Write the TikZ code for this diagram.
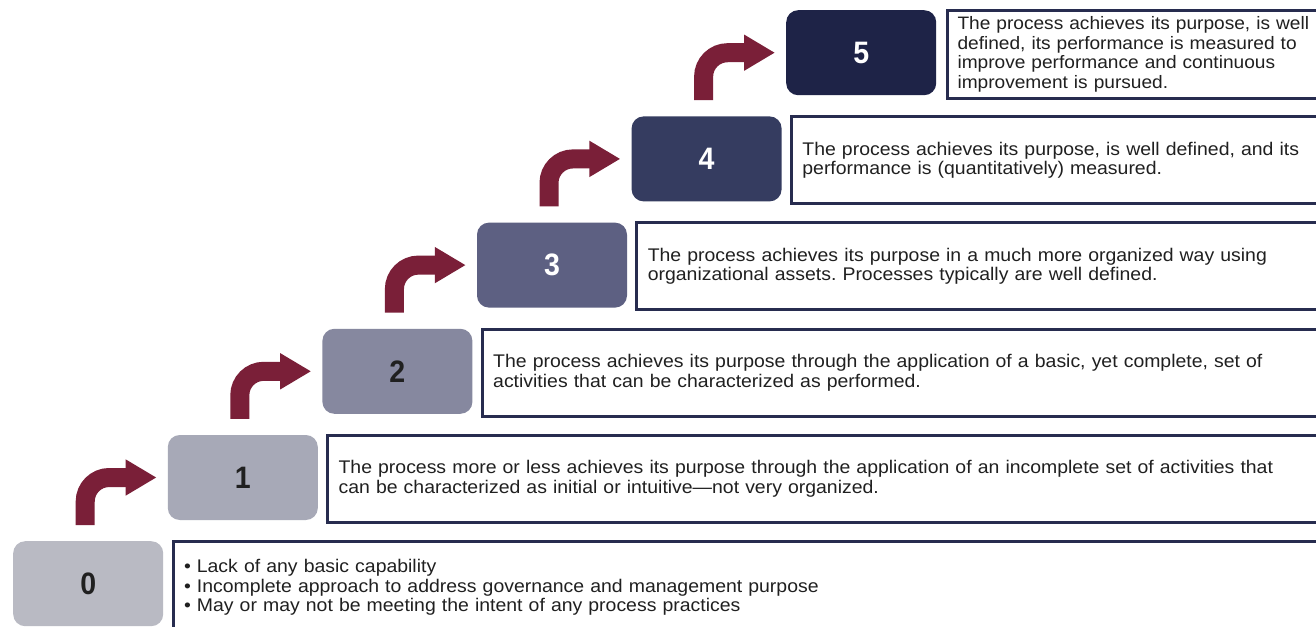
\documentclass[tikz,border=0pt]{standalone}
\usepackage{fontspec}
\setmainfont{Liberation Sans}
\newfontfamily\descfont[FakeStretch=1.062]{Liberation Sans}
\newfontfamily\numfont[FakeStretch=0.92]{Liberation Sans}
\usetikzlibrary{calc,arrows.meta}
\definecolor{lvA}{HTML}{B9BAC3}
\definecolor{lvB}{HTML}{A7A9B7}
\definecolor{lvC}{HTML}{86889F}
\definecolor{lvD}{HTML}{5D6082}
\definecolor{lvE}{HTML}{353C60}
\definecolor{lvF}{HTML}{1E2347}
\definecolor{navy}{HTML}{272C4F}
\definecolor{maroon}{HTML}{7A1F38}
\definecolor{txt}{HTML}{202020}
\tikzset{
  lvl/.style={fill=#1, rounded corners=12pt, minimum width=150pt, minimum height=85pt,
    inner sep=0pt, anchor=north west, font=\numfont\bfseries\fontsize{31}{31}\selectfont},
  desc/.style={draw=navy, line width=3pt, anchor=north west, align=left,
    inner xsep=11pt, inner ysep=0pt, minimum height=87pt, text=txt,
    font=\descfont\fontsize{18.3}{19.5}\selectfont\frenchspacing},
  stair/.style={draw=maroon, line width=19pt, rounded corners=24pt,
    -{Triangle[length=31pt,width=34pt]}},
}
\begin{document}
\begin{tikzpicture}[x=1pt,y=-1pt]
\useasboundingbox (0,0) rectangle (1316,626);
\clip (0,0) rectangle (1316,626);
\fill[white] (0,0) rectangle (1316,626);

\node[lvl=lvA, text=txt]   (b0) at (13,541)     {0};
\node[lvl=lvB, text=txt]   (b1) at (167.6,434.8) {1};
\node[lvl=lvC, text=txt]   (b2) at (322.2,328.6) {2};
\node[lvl=lvD, text=white] (b3) at (476.8,222.4) {3};
\node[lvl=lvE, text=white] (b4) at (631.4,116.2) {4};
\node[lvl=lvF, text=white] (b5) at (786,10)      {5};

\node[desc, minimum height=92pt, text width=1200pt] (t0) at (171.5,540)
  {\textbullet\ Lack of any basic capability\\
   \textbullet\ Incomplete approach to address governance and management purpose\\
   \textbullet\ May or may not be meeting the intent of any process practices};
\node[desc, text width=1040pt] (t1) at (326.1,433.8)
  {The process more or less achieves its purpose through the application of an incomplete set of activities that\\
   can be characterized as initial or intuitive\textemdash not very organized.};
\node[desc, text width=880pt] (t2) at (480.7,327.6)
  {The process achieves its purpose through the application of a basic, yet complete, set of\\
   activities that can be characterized as performed.};
\node[desc, text width=730pt] (t3) at (635.3,221.4)
  {The process achieves its purpose in a much more organized way using\\
   organizational assets. Processes typically are well defined.};
\node[desc, text width=580pt] (t4) at (789.9,115.2)
  {The process achieves its purpose, is well defined, and its\\
   performance is (quantitatively) measured.};
\node[desc, text width=420pt, inner xsep=10pt, font=\descfont\fontsize{18}{19.5}\selectfont\frenchspacing] (t5) at (946,9.5)
  {The process achieves its purpose, is well\\
   defined, its performance is measured to\\
   improve performance and continuous\\
   improvement is pursued.};

\foreach \a/\b in {b0/b1,b1/b2,b2/b3,b3/b4,b4/b5}{
  \draw[stair] ($(\a.north)+(-3,-16)$) |- ($(\b.west)+(-11,0)$);
}
\end{tikzpicture}
\end{document}
